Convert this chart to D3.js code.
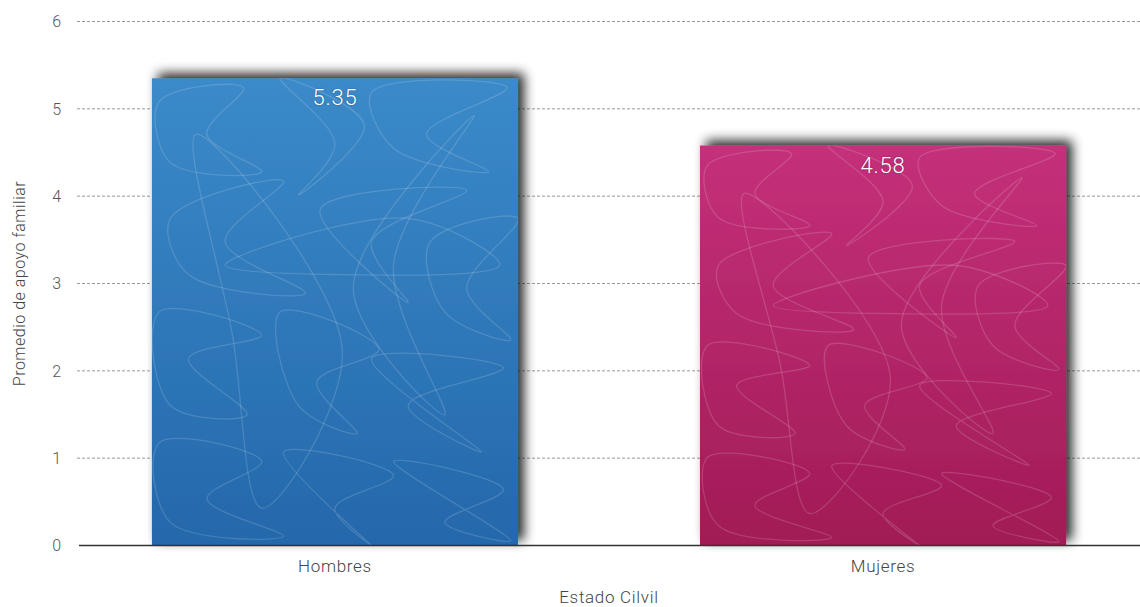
<!DOCTYPE html>
<html>
<head>
<meta charset="utf-8">
<script src="https://cdn.jsdelivr.net/npm/d3@7"></script>
<style>
  html, body { margin: 0; padding: 0; background: #ffffff; }
  svg { display: block; font-family: "Helvetica Neue", Roboto, "Liberation Sans", Arial, sans-serif; }
</style>
</head>
<body>
<svg id="chart" width="1140" height="607"></svg>
<script>
// Average family support by group
const categories = ["Hombres", "Mujeres"];
const values = [5.35, 4.58];
const yTicks = [0, 1, 2, 3, 4, 5, 6];
const xTitle = "Estado Cilvil";
const yTitle = "Promedio de apoyo familiar";

// Decorative scribble texture, in unit coordinates of each bar
const scribbles = [
  [[0.02,0.05],[0.25,0.02],[0.15,0.12],[0.30,0.20],[0.05,0.18]],
  [[0.35,0.00],[0.58,0.10],[0.40,0.25],[0.50,0.14]],
  [[0.60,0.03],[0.97,0.02],[0.75,0.12],[0.92,0.20],[0.66,0.15]],
  [[0.05,0.30],[0.36,0.22],[0.20,0.35],[0.42,0.46],[0.10,0.42]],
  [[0.46,0.28],[0.86,0.24],[0.60,0.35],[0.70,0.48]],
  [[0.76,0.35],[1.00,0.30],[0.86,0.45],[0.98,0.56],[0.80,0.50]],
  [[0.02,0.50],[0.30,0.55],[0.10,0.60],[0.26,0.72],[0.05,0.70]],
  [[0.35,0.50],[0.62,0.58],[0.45,0.65],[0.56,0.76],[0.40,0.70]],
  [[0.60,0.60],[0.96,0.62],[0.70,0.70],[0.90,0.80]],
  [[0.02,0.78],[0.30,0.82],[0.15,0.90],[0.36,0.98],[0.05,0.95]],
  [[0.36,0.80],[0.66,0.85],[0.50,0.92],[0.60,1.00]],
  [[0.66,0.82],[0.96,0.88],[0.80,0.95],[0.98,0.99]],
  [[0.12,0.12],[0.52,0.58],[0.30,0.92],[0.22,0.55]],
  [[0.88,0.08],[0.55,0.45],[0.80,0.72],[0.66,0.40]],
  [[0.20,0.40],[0.70,0.30],[0.95,0.40],[0.50,0.42]]
];

const colors = [
  { top: "#3b8ac9", bottom: "#2468ab" },
  { top: "#c4307b", bottom: "#a11b55" }
];

const svg = d3.select("#chart");
const defs = svg.append("defs");

const x = d3.scaleBand()
  .domain(categories)
  .range([79, 1139])
  .paddingInner(0.332)
  .paddingOuter(0.133);

const y = d3.scaleLinear()
  .domain([0, 6])
  .range([545.5, 21.5]);

// Drop shadow up and to the right of each bar
const shadow = defs.append("filter")
  .attr("id", "barShadow")
  .attr("x", "-10%").attr("y", "-10%")
  .attr("width", "130%").attr("height", "120%");
shadow.append("feGaussianBlur").attr("in", "SourceAlpha").attr("stdDeviation", 6).attr("result", "blur");
shadow.append("feOffset").attr("in", "blur").attr("dx", 6).attr("dy", -5).attr("result", "off");
shadow.append("feComponentTransfer").attr("in", "off").attr("result", "soft")
  .append("feFuncA").attr("type", "linear").attr("slope", 0.85);
const merge = shadow.append("feMerge");
merge.append("feMergeNode").attr("in", "soft");
merge.append("feMergeNode").attr("in", "SourceGraphic");

colors.forEach((c, i) => {
  const g = defs.append("linearGradient")
    .attr("id", "grad" + i)
    .attr("x1", 0).attr("y1", 0).attr("x2", 0).attr("y2", 1);
  g.append("stop").attr("offset", "0%").attr("stop-color", c.top);
  g.append("stop").attr("offset", "100%").attr("stop-color", c.bottom);
});

// Gridlines
svg.append("g")
  .selectAll("line")
  .data(yTicks.filter(d => d > 0))
  .join("line")
  .attr("x1", 77).attr("x2", 1140)
  .attr("y1", d => y(d)).attr("y2", d => y(d))
  .attr("stroke", "#9a9a9a")
  .attr("stroke-width", 1)
  .attr("stroke-dasharray", "3,2");

// Y tick labels
svg.append("g")
  .selectAll("text")
  .data(yTicks)
  .join("text")
  .attr("x", 61)
  .attr("y", d => y(d))
  .attr("dy", "0.36em")
  .attr("text-anchor", "end")
  .attr("font-size", 16)
  .attr("font-weight", 300)
  .attr("fill", "#555")
  .text(d => d);

// Bars
const data = categories.map((c, i) => ({ c, v: values[i], i }));
const bars = svg.append("g").selectAll("g").data(data).join("g");

bars.append("rect")
  .attr("x", d => x(d.c))
  .attr("y", d => y(d.v))
  .attr("width", x.bandwidth())
  .attr("height", d => y(0) - y(d.v))
  .attr("fill", d => "url(#grad" + d.i + ")")
  .attr("filter", "url(#barShadow)");

bars.each(function(d) {
  const g = d3.select(this);
  const clipId = "clip" + d.i;
  defs.append("clipPath").attr("id", clipId)
    .append("rect")
    .attr("x", x(d.c)).attr("y", y(d.v))
    .attr("width", x.bandwidth()).attr("height", y(0) - y(d.v));
  const sx = d3.scaleLinear().domain([0, 1]).range([x(d.c), x(d.c) + x.bandwidth()]);
  const sy = d3.scaleLinear().domain([0, 1]).range([y(d.v), y(0)]);
  const line = d3.line()
    .x(p => sx(p[0])).y(p => sy(p[1]))
    .curve(d3.curveCatmullRomClosed.alpha(0.5));
  g.append("g").attr("clip-path", "url(#" + clipId + ")")
    .selectAll("path")
    .data(scribbles)
    .join("path")
    .attr("d", line)
    .attr("fill", "none")
    .attr("stroke", "#ffffff")
    .attr("stroke-opacity", 0.15)
    .attr("stroke-width", 1.3);
});

// Value labels
bars.append("text")
  .attr("x", d => x(d.c) + x.bandwidth() / 2)
  .attr("y", d => y(d.v) + 27)
  .attr("text-anchor", "middle")
  .attr("font-size", 22)
  .attr("font-weight", 300)
  .attr("letter-spacing", 0.8)
  .attr("fill", "#ffffff")
  .style("text-shadow", "0 0 2px rgba(0,0,0,0.35)")
  .text(d => d.v.toFixed(2));

// Baseline
svg.append("line")
  .attr("x1", 79).attr("x2", 1140)
  .attr("y1", y(0)).attr("y2", y(0))
  .attr("stroke", "#333")
  .attr("stroke-width", 1.5);

// X category labels
svg.append("g")
  .selectAll("text")
  .data(categories)
  .join("text")
  .attr("x", d => x(d) + x.bandwidth() / 2)
  .attr("y", 572)
  .attr("text-anchor", "middle")
  .attr("font-size", 17)
  .attr("font-weight", 300)
  .attr("letter-spacing", 0.7)
  .attr("fill", "#444")
  .text(d => d);

// Axis titles
svg.append("text")
  .attr("x", (x.range()[0] + x.range()[1]) / 2)
  .attr("y", 603)
  .attr("text-anchor", "middle")
  .attr("font-size", 17)
  .attr("font-weight", 300)
  .attr("letter-spacing", 0.7)
  .attr("fill", "#444")
  .text(xTitle);

svg.append("text")
  .attr("transform", "translate(25," + ((y(0) + y(6)) / 2) + ") rotate(-90)")
  .attr("text-anchor", "middle")
  .attr("font-size", 16)
  .attr("font-weight", 300)
  .attr("letter-spacing", 0.5)
  .attr("fill", "#444")
  .text(yTitle);
</script>
</body>
</html>
